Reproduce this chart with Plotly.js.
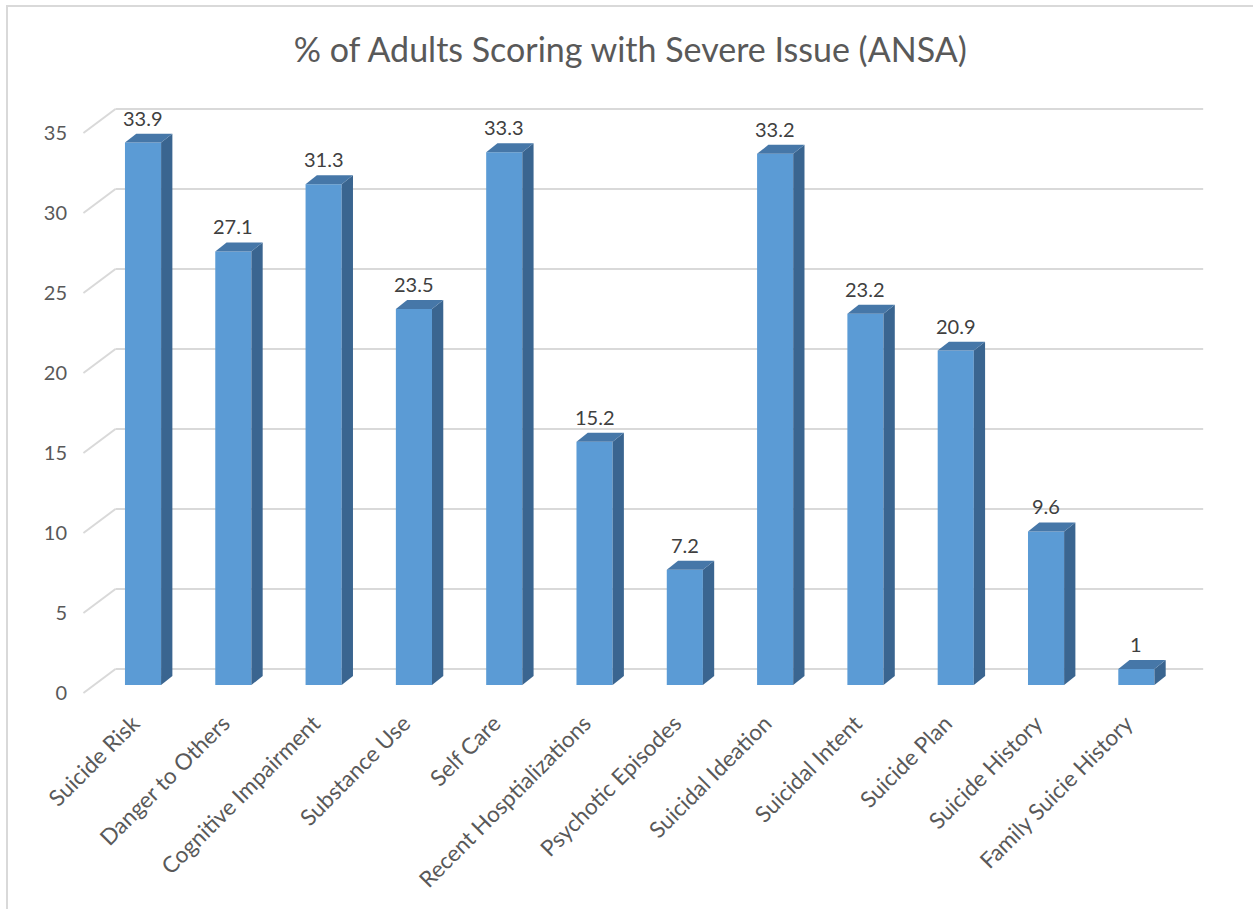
<!DOCTYPE html>
<html>
<head>
<meta charset="utf-8">
<script src="https://cdn.plot.ly/plotly-3.0.1.min.js"></script>
<style>
html,body{margin:0;padding:0;background:#fff;}
#wrap{position:relative;width:1253px;height:909px;}
#chart{width:1253px;height:909px;}
#frame{position:absolute;left:6px;top:5px;width:1260px;height:920px;border-left:2px solid #d9d9d9;border-top:2px solid #d9d9d9;pointer-events:none;}
</style>
</head>
<body>
<div id="wrap"><div id="chart"></div><div id="frame"></div></div>
<script>
const categories = ["Suicide Risk","Danger to Others","Cognitive Impairment","Substance Use","Self Care","Recent Hosptializations","Psychotic Episodes","Suicidal Ideation","Suicidal Intent","Suicide Plan","Suicide History","Family Suicie History"];
const values = [33.9,27.1,31.3,23.5,33.3,15.2,7.2,33.2,23.2,20.9,9.6,1];
const yTicks = [0,5,10,15,20,25,30,35];
const yTickLabels = ["0","5","10","15","20","25","30","35"];
const valueLabels = ["33.9","27.1","31.3","23.5","33.3","15.2","7.2","33.2","23.2","20.9","9.6","1"];

// 3D appearance parameters (in axis units)
const BW = 0.4;         // bar front width
const DX = 0.125;       // bar depth offset x
const DY = 0.56;        // bar depth offset y
const WALL_DX = 0.355;  // floor depth x
const WALL_BACK = 1.0;  // back wall shift y
const WALL_FRONT = -0.5;// front floor edge shift y
const FRONT_COLOR = "#5B9BD5", TOP_COLOR = "#4677A8", SIDE_COLOR = "#3A6590";
const FONT = "Lato, 'Open Sans', sans-serif";

const idx = categories.map((c,i)=>i);
const xStart = -0.66, xEnd = 11.74;

const traces = [];
traces.push({type:"bar", x:idx, y:values, width:BW, marker:{color:FRONT_COLOR, line:{width:0}}, hoverinfo:"skip", showlegend:false});
idx.forEach((i)=>{
  const v = values[i];
  const r = i + BW/2, l = i - BW/2;
  traces.push({type:"scatter", mode:"lines", fill:"toself", fillcolor:SIDE_COLOR, line:{width:0,color:SIDE_COLOR},
    x:[r, r+DX, r+DX, r, r], y:[0, DY, v+DY, v, 0], hoverinfo:"skip", showlegend:false});
  traces.push({type:"scatter", mode:"lines", fill:"toself", fillcolor:TOP_COLOR, line:{width:0,color:TOP_COLOR},
    x:[l, r, r+DX, l+DX, l], y:[v, v, v+DY, v+DY, v], hoverinfo:"skip", showlegend:false});
});

const shapes = [];
yTicks.forEach((t)=>{
  shapes.push({type:"line", layer:"below", xref:"x", yref:"y", x0:xStart, y0:t+WALL_FRONT, x1:xStart+WALL_DX, y1:t+WALL_BACK, line:{color:"#d9d9d9", width:2}});
  shapes.push({type:"line", layer:"below", xref:"x", yref:"y", x0:xStart+WALL_DX, y0:t+WALL_BACK, x1:xEnd, y1:t+WALL_BACK, line:{color:"#d9d9d9", width:2}});
});

const annotations = idx.map((i)=>({x:i, y:values[i], xref:"x", yref:"y", text:valueLabels[i], showarrow:false,
  yanchor:"middle", yshift:25, font:{family:FONT, size:20, color:"#404040"}}));

const layout = {
  width:1253, height:909,
  margin:{l:80, r:38, t:100, b:209},
  paper_bgcolor:"#fff", plot_bgcolor:"rgba(0,0,0,0)",
  title:{text:"% of Adults Scoring with Severe Issue (ANSA)", xref:"container", x:0.503, yref:"container", y:0.945, yanchor:"middle",
    font:{family:FONT, size:34, color:"#595959"}},
  xaxis:{range:[-0.698, 11.871], tickvals:idx, ticktext:categories, tickangle:-45, showgrid:false, zeroline:false, showline:false,
    ticks:"", ticklabelshift:-10, ticklabelstandoff:5, tickfont:{family:FONT, size:22.5, color:"#595959"}, fixedrange:true},
  yaxis:{range:[-0.9375, 36.5625], tickvals:yTicks, ticktext:yTickLabels, showgrid:false, zeroline:false, showline:false,
    ticks:"", ticklabelshift:8, ticklabelstandoff:12, tickfont:{family:FONT, size:20, color:"#595959"}, fixedrange:true},
  shapes:shapes, annotations:annotations, showlegend:false, hovermode:false
};
Plotly.newPlot("chart", traces, layout, {displayModeBar:false, staticPlot:true});
</script>
</body>
</html>
